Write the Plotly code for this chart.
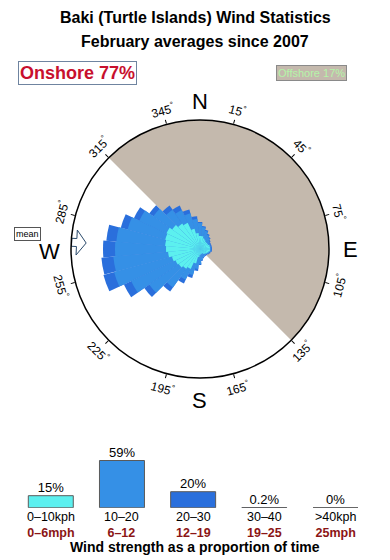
import math
import plotly.graph_objects as go

# ---------------- data ----------------
directions = list(range(0, 360, 10))
# stacked radius (arbitrary units, circle edge = 129)
total_r = [27, 23, 20, 17, 15, 13, 12, 12, 12, 12, 12, 11, 10, 9, 9, 9, 10, 12,
           16, 22, 30, 38, 52, 68, 84, 100, 99, 97, 94, 82, 73, 62, 53, 48, 41, 33]
band_0_10 = [13, 13, 11, 10, 9, 9, 9, 10, 10, 10, 10, 9, 8, 7, 6, 5, 5, 5,
             6, 8, 15, 22, 24, 26, 27, 29, 32, 34, 35, 36, 37, 34, 31, 29, 21, 16]
band_20_30 = [1, 1, 1, 1, 1, 1, 1, 1, 1, 1, 1, 1, 1, 1, 1, 1, 1, 1,
              1, 2, 3, 4, 5, 6, 8, 11, 12, 12, 10, 7, 6, 5, 5, 5, 4, 3]
r_max = 129
offshore_from, offshore_to = 315, 135
mean_dir = 273
onshore_pct = 77
offshore_pct = 17

speed_kph = ["0–10kph", "10–20", "20–30", "30–40", ">40kph"]
speed_mph = ["0–6mph", "6–12", "12–19", "19–25", "25mph"]
proportion = [15, 59, 20, 0.2, 0]
prop_labels = ["15%", "59%", "20%", "0.2%", "0%"]
compass_ticks = [15, 45, 75, 105, 135, 165, 195, 225, 255, 285, 315, 345]

# ---------------- style ----------------
FONT = "Liberation Sans, Arial, sans-serif"
C_CYAN = "#5cf0ef"
C_MID = "#3590e6"
C_DARK = "#2a6fdc"
C_TAN = "#c4b9ad"
W, H = 390, 560
CX, CY, RPX = 200, 249, 129


def px(x, y):
    return x / W, 1 - y / H


fig = go.Figure()

# offshore sector
span = (offshore_to - offshore_from) % 360
fig.add_trace(go.Barpolar(
    r=[r_max], theta=[(offshore_from + span / 2) % 360], width=[span],
    marker=dict(color=C_TAN, line=dict(width=0)), hoverinfo="skip",
    showlegend=False))

mid_outer = [t - d for t, d in zip(total_r, band_20_30)]
for rr, col in [(total_r, C_DARK), (mid_outer, C_MID), (band_0_10, C_CYAN)]:
    fig.add_trace(go.Barpolar(
        r=rr, theta=directions, width=[10] * len(directions),
        marker=dict(color=col, line=dict(width=0)), showlegend=False))

# mean-direction arrow
pts = [(114, 0), (123.5, 12.5), (123.5, 4), (128.5, 4), (128.5, -4),
       (123.5, -4), (123.5, -12.5), (114, 0)]
ar = [math.hypot(s, w) for s, w in pts]
at = [mean_dir + math.degrees(math.atan2(w, s)) for s, w in pts]
fig.add_trace(go.Scatterpolar(
    r=ar, theta=at, mode="lines", fill="toself", fillcolor="white",
    line=dict(color="#2b4a6b", width=1), cliponaxis=False,
    showlegend=False, hoverinfo="skip"))

x0, y1 = px(CX - RPX, CY - RPX)
x1, y0 = px(CX + RPX, CY + RPX)
fig.update_layout(polar=dict(
    domain=dict(x=[x0, x1], y=[y0, y1]),
    bgcolor="white", barmode="overlay",
    angularaxis=dict(rotation=90, direction="clockwise", showgrid=False,
                     linecolor="black", linewidth=1.5, ticks="outside",
                     ticklen=4, tickcolor="black", tickvals=compass_ticks,
                     showticklabels=False),
    radialaxis=dict(visible=False, range=[0, r_max])))

# bottom bar chart
bar_colors = [C_CYAN, C_MID, C_DARK, "#1d4fb5", "#123a90"]
cats = list(range(len(speed_kph)))
fig.add_trace(go.Bar(
    x=cats, y=proportion, marker=dict(color=bar_colors,
                                      line=dict(color="#5a5a5a", width=1)),
    xaxis="x", yaxis="y", width=0.632, showlegend=False))
fig.add_trace(go.Scatter(
    x=cats, y=proportion, mode="text", text=prop_labels,
    textposition="top center", textfont=dict(size=13, color="black", family=FONT),
    xaxis="x", yaxis="y", showlegend=False, cliponaxis=False))
for i in cats:
    fig.add_shape(type="line", xref="x", yref="y", x0=i - 0.316, x1=i + 0.316,
                  y0=0, y1=0, line=dict(color="#a0a0a0", width=1.5), layer="below")

fig.update_layout(
    xaxis=dict(domain=[15.2 / W, 371.1 / W], range=[-0.5, 4.5], tickvals=cats,
               showticklabels=False, showgrid=False, zeroline=False,
               showline=False, ticks=""),
    yaxis=dict(domain=[1 - 507.7 / H, 1 - 459.7 / H], range=[0, 60],
               visible=False))

ann = []
# category labels (two lines, kph and mph)
for i, (k, m) in enumerate(zip(speed_kph, speed_mph)):
    ann.append(dict(x=i, y=1 - 525 / H, xref="x", yref="paper",
                    text=f"{k}<br><b><span style='color:#8b1515'>{m}</span></b>",
                    font=dict(size=12.5, color="black", family=FONT)))
# titles
for txt, y, s in [("Baki (Turtle Islands) Wind Statistics", 17, 16),
                  ("February averages since 2007", 42, 16)]:
    xx, yy = px(195, y)
    ann.append(dict(x=xx, y=yy, text=f"<b>{txt}</b>",
                    font=dict(size=s, color="black", family=FONT)))
xx, yy = px(77.5, 73)
ann.append(dict(x=xx, y=yy, text=f"<b>Onshore {onshore_pct}%</b>",
                font=dict(size=18, color="#c8102e", family=FONT),
                bordercolor="#6f84a0", borderwidth=1, borderpad=1, bgcolor="white"))
xx, yy = px(311, 73.5)
ann.append(dict(x=xx, y=yy, text=f"Offshore {offshore_pct}%",
                font=dict(size=11, color="#b4f5a8", family=FONT),
                bordercolor="#8a8a8a", borderwidth=1, borderpad=1, bgcolor=C_TAN))
# compass letters
for lab, (x, y) in {"N": (200, 101), "E": (350, 250), "S": (200, 400),
                    "W": (49, 252)}.items():
    xx, yy = px(x, y)
    ann.append(dict(x=xx, y=yy, text=lab,
                    font=dict(size=22, color="black", family=FONT)))
# degree labels
for d in compass_ticks:
    a = math.radians(d)
    xx, yy = px(CX + 144 * math.sin(a), CY - 144 * math.cos(a))
    ta = d if (d <= 90 or d >= 270) else d - 180
    ann.append(dict(x=xx, y=yy, text=f"{d}<sup>°</sup>", textangle=ta,
                    font=dict(size=12, color="black", family=FONT)))
xx, yy = px(27, 234)
ann.append(dict(x=xx, y=yy, text="mean",
                font=dict(size=9, color="black", family=FONT),
                bordercolor="#555", borderwidth=1, borderpad=1, bgcolor="white"))
xx, yy = px(195, 547)
ann.append(dict(x=xx, y=yy, text="<b>Wind strength as a proportion of time</b>",
                font=dict(size=14, color="black", family=FONT)))
for a in ann:
    a.setdefault("xref", "paper")
    a.setdefault("yref", "paper")
    a.update(showarrow=False, xanchor="center", yanchor="middle")

fig.update_layout(width=W, height=H, margin=dict(l=0, r=0, t=0, b=0),
                  paper_bgcolor="white", plot_bgcolor="white",
                  annotations=ann, font=dict(family=FONT), bargap=0.368)
fig.write_html("out.html", config={"displayModeBar": False})
